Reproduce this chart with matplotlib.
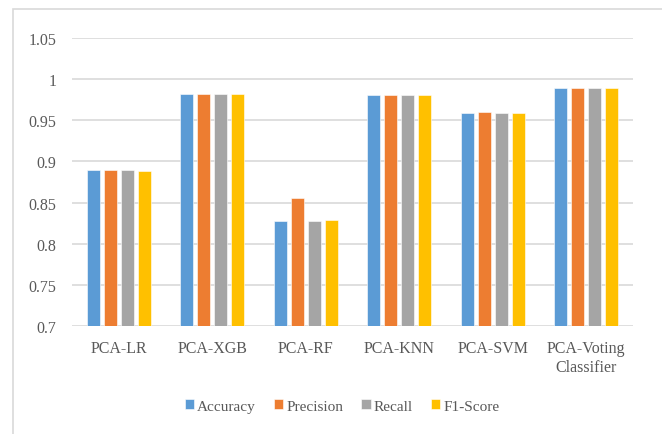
import numpy as np
import matplotlib
matplotlib.use('Agg')
import matplotlib.pyplot as plt
from matplotlib.patches import Rectangle

# model scores per metric
models = ['PCA-LR', 'PCA-XGB', 'PCA-RF', 'PCA-KNN', 'PCA-SVM', 'PCA-Voting\nClassifier']
accuracy = [0.889, 0.982, 0.828, 0.981, 0.959, 0.989]
precision = [0.890, 0.982, 0.855, 0.981, 0.960, 0.989]
recall = [0.889, 0.982, 0.828, 0.981, 0.959, 0.989]
f1_score = [0.888, 0.982, 0.829, 0.981, 0.959, 0.989]

metrics = ['Accuracy', 'Precision', 'Recall', 'F1-Score']
colors = ['#5B9BD5', '#ED7D31', '#A5A5A5', '#FFC000']

plt.rcParams['font.family'] = ['Liberation Serif', 'DejaVu Serif']
text_color = '#595959'

fig = plt.figure(figsize=(6.62, 4.35), dpi=100)
ax = fig.add_axes([72/662, 1-327/435, (633-72)/662, (327-39)/435])

x = np.arange(len(models))
step = 0.182
width = 0.14
for i, (name, vals) in enumerate(zip(metrics, [accuracy, precision, recall, f1_score])):
    ax.bar(x + (i - 1.5) * step, vals, width, color=colors[i], label=name,
           edgecolor='white', linewidth=0.4, zorder=3)

ax.set_ylim(0.7, 1.05)
ax.set_xlim(-0.5, len(models) - 0.5)
yt = [0.7, 0.75, 0.8, 0.85, 0.9, 0.95, 1.0, 1.05]
ax.set_yticks(yt)
ax.set_yticklabels(['0.7', '0.75', '0.8', '0.85', '0.9', '0.95', '1', '1.05'])
ax.set_xticks(x)
ax.set_xticklabels(models, linespacing=1.25)
ax.grid(axis='y', color='#D9D9D9', linewidth=1.2, zorder=0)
for s in ax.spines.values():
    s.set_visible(False)
ax.tick_params(axis='both', length=0, labelsize=11.5, colors=text_color)
ax.tick_params(axis='y', pad=11)
ax.tick_params(axis='x', pad=10)

fig.legend(loc='center', bbox_to_anchor=(342/662, 1-407/435), ncol=4, frameon=False,
           fontsize=11, handlelength=0.6, handleheight=0.6, handletextpad=0.2,
           columnspacing=1.2, labelcolor=text_color)

# chart border
fig.patches.append(Rectangle((13/662, -0.1), 1.0, 1.1 - 10/435, transform=fig.transFigure,
                             fill=False, edgecolor='#D9D9D9', linewidth=1.2))

fig.savefig('out.png', dpi=100)
